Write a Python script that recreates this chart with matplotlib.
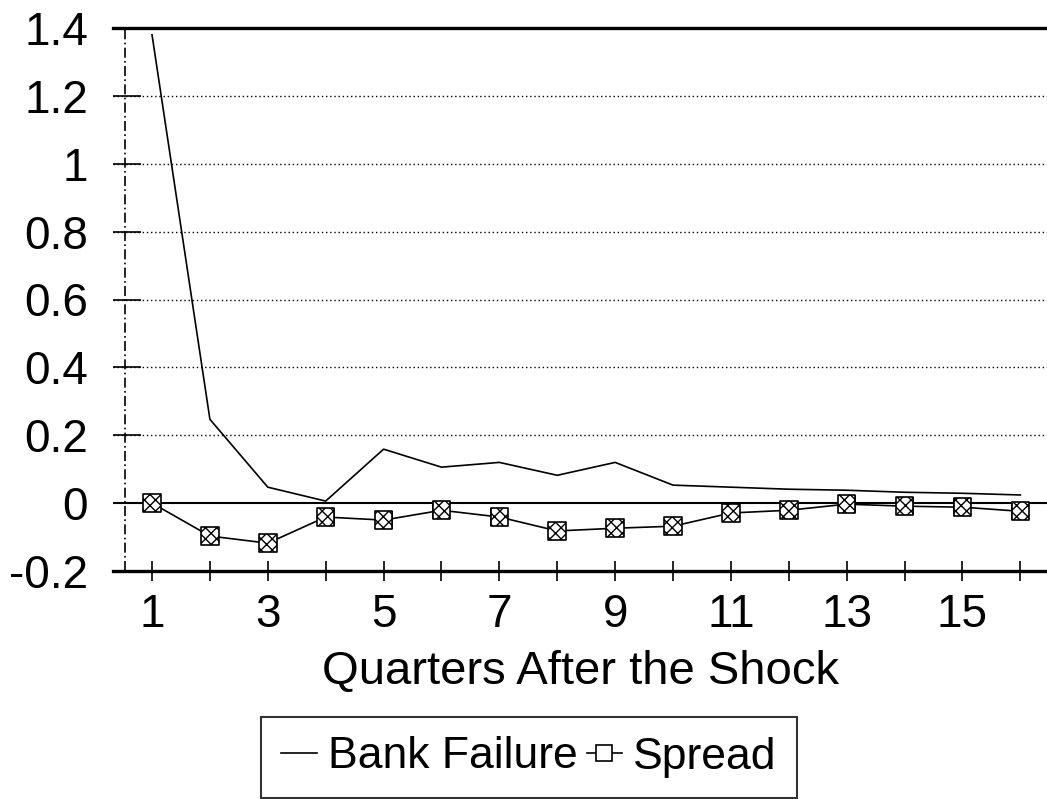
import numpy as np
import matplotlib.pyplot as plt
from matplotlib.ticker import MultipleLocator, FixedLocator

plt.rcParams['font.family'] = ['Liberation Sans', 'DejaVu Sans']

quarters = list(range(1, 17))
bank_failure = [1.38, 0.247, 0.047, 0.006, 0.159, 0.106, 0.12, 0.082,
                0.12, 0.053, 0.047, 0.041, 0.038, 0.032, 0.029, 0.024]
spread = [0.0, -0.097, -0.118, -0.041, -0.05, -0.021, -0.041, -0.082,
          -0.074, -0.068, -0.029, -0.021, -0.003, -0.009, -0.012, -0.024]
ytick_vals = [-0.2, 0, 0.2, 0.4, 0.6, 0.8, 1, 1.2, 1.4]
ytick_labels = ['-0.2', '0', '0.2', '0.4', '0.6', '0.8', '1', '1.2', '1.4']
xtick_labels = [str(q) if q % 2 == 1 else '' for q in quarters]

fig = plt.figure(figsize=(10.47, 7.99), dpi=100)
ax = fig.add_axes([113/1047, 1-571/799, 1-113/1047, (571-28)/799])

# dotted gridlines
for v in ytick_vals[2:-1]:
    ax.axhline(v, color='black', lw=1.0, ls=(0, (1, 2)), zorder=1)
ax.axhline(0, color='black', lw=1.5, zorder=2)
# the dash-dot value axis
ax.axvline(0.534, color='black', lw=1.2, ls=(0, (6, 2, 1, 2)), zorder=2)

l1, = ax.plot(quarters, bank_failure, color='black', lw=1.2, zorder=3,
              label='Bank Failure')
l2, = ax.plot(quarters, spread, color='black', lw=1.2, marker='s',
              markersize=12, mfc='white', mec='black', mew=1.2, zorder=3,
              label='Spread')
ax.scatter(quarters, spread, marker='s', s=160, facecolor='white',
           edgecolor='black', linewidths=1.2, hatch='xxx', zorder=4)

ax.set_xlim(0.326, 16.46)
ax.set_ylim(-0.2, 1.4)

ax.spines['left'].set_visible(False)
ax.spines['right'].set_visible(False)
ax.spines['top'].set_linewidth(2.4)
ax.spines['bottom'].set_linewidth(2.4)

ax.yaxis.set_major_locator(FixedLocator(ytick_vals))
ax.set_yticklabels(ytick_labels)
ax.yaxis.set_minor_locator(MultipleLocator(0.1))
ax.tick_params(axis='y', which='major', direction='in', length=20, width=1.2,
               pad=18, labelsize=33)
ax.tick_params(axis='y', which='minor', direction='in', length=0)

ax.set_xticks(quarters)
ax.set_xticklabels(xtick_labels)
ax.tick_params(axis='x', which='major', direction='inout', length=14, width=1.2,
               pad=9, labelsize=33)

ax.set_xlabel('Quarters After the Shock', fontsize=34, labelpad=9)

leg = fig.legend(handles=[l1, l2], loc='center', bbox_to_anchor=(529/1047, 1-757/799),
                 ncol=2, fontsize=32, frameon=True, fancybox=False,
                 edgecolor='black', handlelength=0.8, handletextpad=0.25,
                 columnspacing=0.2, borderpad=0.45, borderaxespad=0)
leg.get_frame().set_linewidth(1.5)

fig.savefig('out.png', dpi=100)
